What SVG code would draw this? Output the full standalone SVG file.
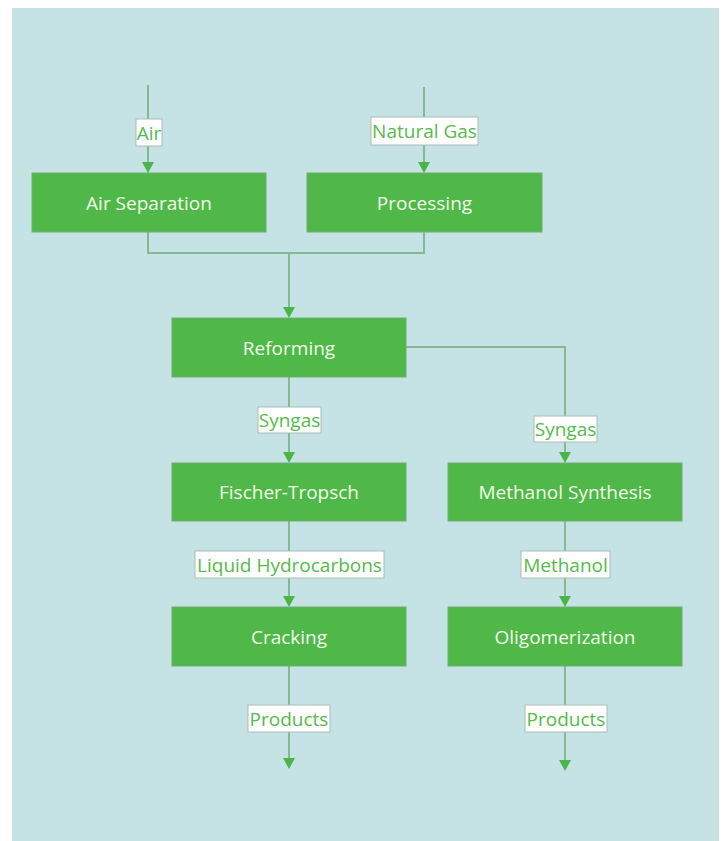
<svg xmlns="http://www.w3.org/2000/svg" width="725" height="841" viewBox="0 0 725 841">
<style>
.node rect{fill:#50B848;stroke:#6FAE72;stroke-width:1}
.node text{fill:#F2FBEA;font-family:"Open Sans","Liberation Sans",sans-serif;font-size:19px;text-anchor:middle;dominant-baseline:central}
.edge{fill:none;stroke:#86B893;stroke-width:2}
.head{fill:#4CB548}
.lbl rect{fill:#FFFFFF;stroke:#A9BDB8;stroke-width:1}
.lbl text{fill:#56BA4C;font-family:"Open Sans","Liberation Sans",sans-serif;font-size:19px;text-anchor:middle;dominant-baseline:central}
</style>
<rect x="12" y="8" width="707" height="833" fill="#C5E3E5"/>
<g id="connectors">
<path class="edge" d="M148,85 V162"/>
<polygon class="head" points="142,162 154,162 148,173"/>
<path class="edge" d="M424,87 V162"/>
<polygon class="head" points="418,162 430,162 424,173"/>
<path class="edge" d="M148,232 V253 H424 V232"/>
<path class="edge" d="M289,253 V307"/>
<polygon class="head" points="283,307 295,307 289,318"/>
<path class="edge" d="M289,377 V452"/>
<polygon class="head" points="283,452 295,452 289,463"/>
<path class="edge" d="M406,347 H565 V452"/>
<polygon class="head" points="559,452 571,452 565,463"/>
<path class="edge" d="M289,521 V596"/>
<polygon class="head" points="283,596 295,596 289,607"/>
<path class="edge" d="M565,521 V596"/>
<polygon class="head" points="559,596 571,596 565,607"/>
<path class="edge" d="M289,666 V758"/>
<polygon class="head" points="283,758 295,758 289,769"/>
<path class="edge" d="M565,666 V760"/>
<polygon class="head" points="559,760 571,760 565,771"/>
<g class="lbl"><rect x="136" y="119" width="26" height="27"/><text x="149" y="132.5">Air</text></g>
<g class="lbl"><rect x="371" y="117" width="107" height="28"/><text x="424.5" y="131">Natural Gas</text></g>
<g class="lbl"><rect x="258" y="407" width="63" height="26"/><text x="289.5" y="420">Syngas</text></g>
<g class="lbl"><rect x="534" y="416" width="63" height="26"/><text x="565.5" y="429">Syngas</text></g>
<g class="lbl"><rect x="195" y="551" width="189" height="27"/><text x="289.5" y="564.5">Liquid Hydrocarbons</text></g>
<g class="lbl"><rect x="521" y="551" width="89" height="27"/><text x="565.5" y="564.5">Methanol</text></g>
<g class="lbl"><rect x="248" y="705" width="82" height="27"/><text x="289" y="718.5">Products</text></g>
<g class="lbl"><rect x="525" y="705" width="82" height="27"/><text x="566" y="718.5">Products</text></g>
</g>
<g id="air-separation" class="node"><rect x="32" y="173" width="234" height="59"/><text x="149" y="202.5">Air Separation</text></g>
<g id="processing" class="node"><rect x="307" y="173" width="235" height="59"/><text x="424.5" y="202.5">Processing</text></g>
<g id="reforming" class="node"><rect x="172" y="318" width="234" height="59"/><text x="289" y="347.5">Reforming</text></g>
<g id="fischer-tropsch" class="node"><rect x="172" y="463" width="234" height="58"/><text x="289" y="492">Fischer-Tropsch</text></g>
<g id="methanol-synthesis" class="node"><rect x="448" y="463" width="234" height="58"/><text x="565" y="492">Methanol Synthesis</text></g>
<g id="cracking" class="node"><rect x="172" y="607" width="234" height="59"/><text x="289" y="636.5">Cracking</text></g>
<g id="oligomerization" class="node"><rect x="448" y="607" width="234" height="59"/><text x="565" y="636.5">Oligomerization</text></g>
</svg>
